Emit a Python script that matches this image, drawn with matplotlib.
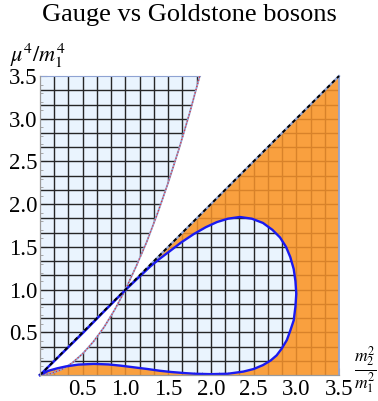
import numpy as np
import matplotlib
matplotlib.use("Agg")
import matplotlib.pyplot as plt
from matplotlib.path import Path
from matplotlib.patches import PathPatch
from matplotlib.ticker import MultipleLocator

plt.rcParams["font.family"] = "Liberation Serif"
plt.rcParams["mathtext.fontset"] = "stix"

# red dotted boundary
para_x = [0.0, 0.125, 0.25, 0.375, 0.5, 0.625, 0.75, 0.875, 1.0,
          1.125, 1.25, 1.375, 1.5, 1.625, 1.75, 1.87]
para_y = [0.0, 0.016, 0.0625, 0.14, 0.25, 0.39, 0.56, 0.765, 1.0,
          1.27, 1.56, 1.89, 2.25, 2.64, 3.06, 3.5]

# blue closed curve, from the origin along the upper branch, back along the lower lobe
loop_x = [0.0, 0.25, 0.5, 0.75, 1.0, 1.1, 1.29, 1.4, 1.52, 1.65, 1.80, 1.94,
          2.07, 2.2, 2.34, 2.48, 2.61, 2.72, 2.81, 2.88, 2.93, 2.97, 2.99,
          3.0, 2.99, 2.97, 2.93, 2.89, 2.83, 2.77, 2.70, 2.61, 2.50, 2.38,
          2.2, 2.0, 1.81, 1.7, 1.54, 1.4, 1.26, 1.1, 0.94, 0.8, 0.63, 0.45,
          0.3, 0.2, 0.1, 0.04, 0.0]
loop_y = [0.0, 0.245, 0.49, 0.745, 0.995, 1.09, 1.27, 1.36, 1.45, 1.55, 1.65,
          1.73, 1.79, 1.83, 1.85, 1.83, 1.78, 1.70, 1.61, 1.50, 1.38, 1.24,
          1.10, 0.95, 0.80, 0.64, 0.52, 0.41, 0.31, 0.23, 0.17, 0.116, 0.07,
          0.04, 0.015, 0.01, 0.015, 0.022, 0.035, 0.05, 0.07, 0.09, 0.11,
          0.124, 0.13, 0.122, 0.10, 0.078, 0.05, 0.02, 0.0]

diag = [0.0, 3.5]
lim = 3.5
mesh_cells = 21
major_ticks = [0.5, 1.0, 1.5, 2.0, 2.5, 3.0, 3.5]
tick_labels = ["0.5", "1.0", "1.5", "2.0", "2.5", "3.0", "3.5"]

light_blue = "#EAF4FE"
orange = "#F9A03F"
edge = "#8FA3D3"

fig = plt.figure(figsize=(3.78, 4.01), dpi=100)
ax = fig.add_axes([0.1058, 0.0648, 0.791, 0.7456])
ax.set_xlim(0, lim)
ax.set_ylim(0, lim)

# region where (y - x)(y - x^2) > 0
pts = np.column_stack([para_x, para_y])
upper = np.vstack([[0, 0], [1, 1], pts[pts[:, 0] > 1], [[0, lim]]])
lower = np.vstack([pts[pts[:, 0] <= 1], [[lim, lim], [lim, 0]]])
verts = np.vstack([upper, [[0, 0]], lower, [[0, 0]]])
codes = ([Path.MOVETO] + [Path.LINETO] * (len(upper) - 1) + [Path.CLOSEPOLY]
         + [Path.MOVETO] + [Path.LINETO] * (len(lower) - 1) + [Path.CLOSEPOLY])
patch_a = PathPatch(Path(verts, codes), facecolor=light_blue, edgecolor="none", zorder=1)
ax.add_patch(patch_a)

# region below y = x, outside the loop
tri = np.array([[0, 0], [lim, 0], [lim, lim]])
lp = np.column_stack([loop_x, loop_y])
area = 0.5 * np.sum(lp[:-1, 0] * lp[1:, 1] - lp[1:, 0] * lp[:-1, 1])
if area > 0:
    lp = lp[::-1]
verts_b = np.vstack([tri, [[0, 0]], lp, [[0, 0]]])
codes_b = ([Path.MOVETO] + [Path.LINETO] * 2 + [Path.CLOSEPOLY]
           + [Path.MOVETO] + [Path.LINETO] * (len(lp) - 1) + [Path.CLOSEPOLY])
patch_b = PathPatch(Path(verts_b, codes_b), facecolor=orange, edgecolor="none", zorder=3)
ax.add_patch(patch_b)

# mesh lines clipped to each region
pos = np.arange(1, mesh_cells) * lim / mesh_cells
for patch, col, z in [(patch_a, "#262626", 2), (patch_b, "#D8822A", 4)]:
    h = ax.hlines(pos, 0, lim, colors=col, lw=1.0, zorder=z)
    v = ax.vlines(pos, 0, lim, colors=col, lw=1.0, zorder=z)
    h.set_clip_path(patch)
    v.set_clip_path(patch)

# boundaries
ax.plot(para_x, para_y, color=edge, lw=1.3, zorder=5)
ax.plot(para_x, para_y, color="#E0303A", lw=0.9, dashes=(1, 1.6), zorder=6)
ax.plot([0, para_x[-1]], [lim, lim], color=edge, lw=0.8, zorder=5, clip_on=False)
ax.plot([lim, lim], [0, lim], color=edge, lw=1.3, zorder=5, clip_on=False)
ax.plot(diag, diag, color=edge, lw=1.6, zorder=5, clip_on=False)
ax.plot(loop_x, loop_y, color="#1A1AF0", lw=1.7, zorder=7, clip_on=False)
ax.plot(diag, diag, color="black", lw=1.4, dashes=(2, 1.6), zorder=8, clip_on=False)

# axes in Mathematica style
for s in ["top", "right"]:
    ax.spines[s].set_visible(False)
for s in ["left", "bottom"]:
    ax.spines[s].set_color("#9A9A9A")
    ax.spines[s].set_linewidth(0.9)
    ax.spines[s].set_zorder(9)
ax.set_xticks(major_ticks)
ax.set_yticks(major_ticks)
ax.set_xticklabels(tick_labels, fontfamily="Liberation Serif", fontsize=16.5)
ax.set_yticklabels(tick_labels, fontfamily="Liberation Serif", fontsize=16.5)
ax.xaxis.set_minor_locator(MultipleLocator(0.1))
ax.yaxis.set_minor_locator(MultipleLocator(0.1))
ax.tick_params(which="both", direction="in", color="#9A9A9A")
ax.tick_params(which="major", length=5, width=0.8, pad=3)
ax.tick_params(which="minor", length=2.5, width=0.6)
ax.tick_params(axis="y", pad=2)

fig.text(0.5, 0.962, "Gauge vs Goldstone bosons", ha="center", va="center", fontsize=19)
fig.text(0.027, 0.862, r"$\mu^4/m_1^4$", ha="left", va="center", fontsize=16)
fig.text(0.966, 0.078, r"$\frac{m_2^2}{m_1^2}$", ha="center", va="center", fontsize=18)

fig.savefig("out.png", dpi=100)
